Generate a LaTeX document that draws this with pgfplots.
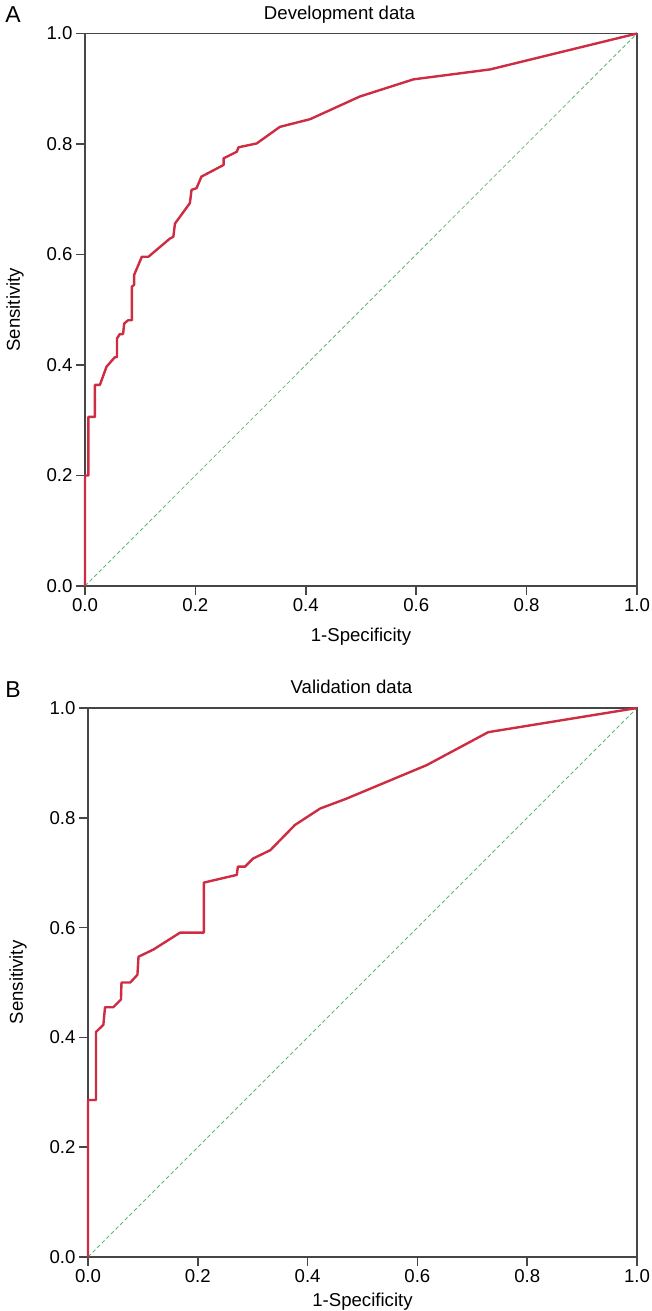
\documentclass[border=0pt]{standalone}
\usepackage{pgfplots}
\pgfplotsset{compat=1.18}
\usepackage{fontspec}
\setmainfont{Liberation Sans}
\definecolor{roc}{RGB}{206,44,66}
\definecolor{ref}{RGB}{96,186,110}
\definecolor{frame}{RGB}{70,70,70}
\pgfplotsset{
  rocaxis/.style={
    scale only axis,
    anchor=south west,
    xmin=0, xmax=1, ymin=0, ymax=1,
    xtick={0,0.2,...,1.0}, ytick={0,0.2,...,1.0},
    xtick pos=bottom, ytick pos=left,
    tick align=outside,
    major tick length=9pt,
    axis line style={frame, line width=1.6pt},
    every tick/.style={frame, line width=1.6pt},
    /pgf/number format/.cd, fixed, fixed zerofill, precision=1, assume math mode=true,
    /pgfplots/.cd,
    ticklabel style={font=\fontsize{18.6}{22}\selectfont},
    label style={font=\fontsize{18.6}{22}\selectfont},
    title style={font=\fontsize{18.6}{22}\selectfont},
    ylabel style={at={([xshift=-65pt]axis description cs:0,0.5)}, anchor=base, rotate=0},
    xlabel={1-Specificity},
    ylabel={Sensitivity},
    clip=false,
  }
}
\begin{document}
\begin{tikzpicture}
\useasboundingbox (0pt,0pt) rectangle (651pt,-1311pt);
\begin{axis}[rocaxis, at={(85pt,-586pt)}, width=552pt, height=552.5pt,
  title={Development data},
  title style={at={([yshift=8.5pt]axis description cs:0.461,1)}, anchor=base},
  xlabel style={at={([yshift=-55pt]axis description cs:0.5,0)}, anchor=base}]
\addplot[ref, line width=0.8pt, dash pattern=on 4pt off 2.5pt] coordinates {(0,0) (1,1)};
\addplot[roc, line width=2.4pt, line join=round] coordinates {
(0,0) (0,0.2) (0.006,0.2) (0.006,0.306) (0.018,0.306) (0.018,0.364) (0.027,0.364)
(0.039,0.397) (0.054,0.414) (0.058,0.414) (0.058,0.448) (0.063,0.456) (0.069,0.456)
(0.071,0.475) (0.078,0.481) (0.085,0.481) (0.085,0.542) (0.089,0.545) (0.089,0.563)
(0.103,0.596) (0.115,0.596) (0.154,0.629) (0.160,0.632) (0.163,0.656) (0.190,0.693)
(0.193,0.717) (0.202,0.720) (0.211,0.741) (0.251,0.762) (0.251,0.774) (0.275,0.786)
(0.278,0.794) (0.311,0.801) (0.353,0.831) (0.408,0.845) (0.498,0.886) (0.595,0.917)
(0.734,0.935) (1,1)};
\end{axis}
\begin{axis}[rocaxis, at={(88pt,-1257pt)}, width=549pt, height=549pt,
  title={Validation data},
  title style={at={([yshift=8.5pt]axis description cs:0.48,1)}, anchor=base},
  xlabel style={at={([yshift=-49pt]axis description cs:0.5,0)}, anchor=base}]
\addplot[ref, line width=0.8pt, dash pattern=on 4pt off 2.5pt] coordinates {(0,0) (1,1)};
\addplot[roc, line width=2.4pt, line join=round] coordinates {
(0,0) (0,0.286) (0.0146,0.286) (0.0146,0.410) (0.028,0.423) (0.031,0.455) (0.046,0.455)
(0.060,0.469) (0.061,0.500) (0.077,0.500) (0.090,0.514) (0.092,0.547) (0.119,0.560)
(0.168,0.591) (0.211,0.591) (0.211,0.682) (0.271,0.696) (0.273,0.711) (0.286,0.711)
(0.301,0.726) (0.332,0.741) (0.377,0.787) (0.423,0.817) (0.471,0.835) (0.617,0.896)
(0.729,0.956) (1,1)};
\end{axis}
\node[font=\fontsize{23}{26}\selectfont] at (13pt,-15pt) {A};
\node[font=\fontsize{23}{26}\selectfont] at (13pt,-690pt) {B};
\end{tikzpicture}
\end{document}
